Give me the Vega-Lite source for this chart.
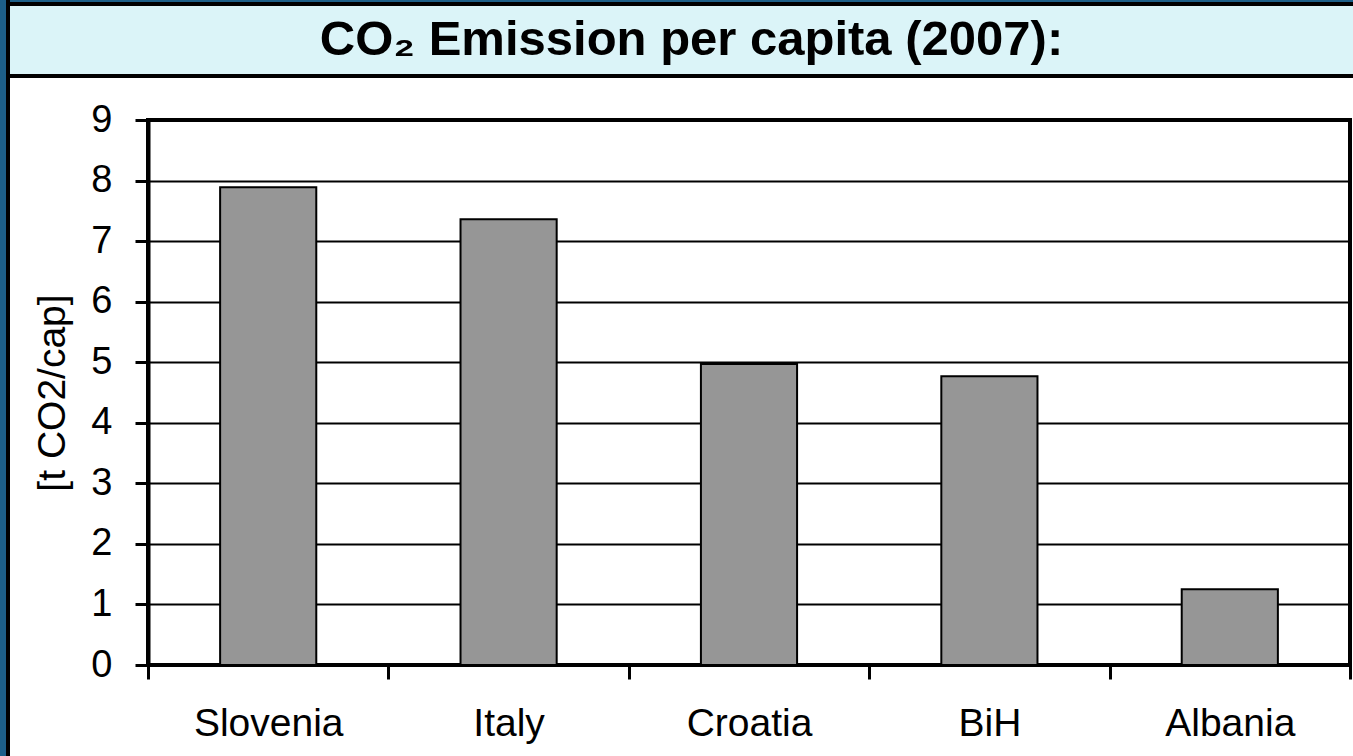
{
  "$schema": "https://vega.github.io/schema/vega-lite/v6.json",
  "padding": 0,
  "background": "white",
  "bounds": "flush",
  "spacing": 0,
  "config": {
    "view": {"stroke": null},
    "font": "Liberation Sans"
  },
  "hconcat": [
    {
      "width": 6, "height": 756,
      "view": {"fill": "#1d5f88", "stroke": null},
      "data": {"values": [{}]},
      "mark": {"type": "rect", "color": "#1d5f88"}
    },
    {
      "width": 4, "height": 756,
      "view": {"fill": "#000000", "stroke": null},
      "data": {"values": [{}]},
      "mark": {"type": "rect", "color": "#000000"}
    },
    {
      "bounds": "flush",
      "spacing": 0,
      "vconcat": [
        {
          "width": 1343, "height": 2,
          "view": {"fill": "#1d5f88", "stroke": null},
          "data": {"values": [{}]},
          "mark": {"type": "rect", "color": "#1d5f88"}
        },
        {
          "width": 1343, "height": 4,
          "view": {"fill": "#000000", "stroke": null},
          "data": {"values": [{}]},
          "mark": {"type": "rect", "color": "#000000"}
        },
        {
          "width": 1343, "height": 68,
          "view": {"fill": "#dbf4f8", "stroke": null},
          "data": {"values": [{"title": "CO₂ Emission per capita (2007):"}]},
          "mark": {"type": "text", "font": "Liberation Sans", "fontWeight": "bold", "fontSize": 49, "color": "#000000", "align": "center", "baseline": "alphabetic", "dy": 15, "dx": 10},
          "encoding": {"text": {"field": "title", "type": "nominal"}}
        },
        {
          "width": 1343, "height": 4,
          "view": {"fill": "#000000", "stroke": null},
          "data": {"values": [{}]},
          "mark": {"type": "rect", "color": "#000000"}
        },
        {
          "width": 1343, "height": 42,
          "view": {"fill": "white", "stroke": null},
          "data": {"values": [{}]},
          "mark": {"type": "rect", "color": "white"}
        },
        {
          "bounds": "flush",
          "spacing": 0,
          "hconcat": [
            {
              "width": 138, "height": 545,
              "data": {"values": [{}]},
              "mark": {"type": "rect", "opacity": 0}
            },
            {
              "width": 1202, "height": 545,
              "view": {"stroke": "#000000", "strokeWidth": 4, "fill": "white"},
              "data": {"values": [
                {"country": "Slovenia", "value": 7.89},
                {"country": "Italy", "value": 7.36},
                {"country": "Croatia", "value": 4.97},
                {"country": "BiH", "value": 4.77},
                {"country": "Albania", "value": 1.25}
              ]},
              "mark": {"type": "bar", "fill": "#969696", "stroke": "#000000", "strokeWidth": 2, "width": {"band": 0.4}},
              "encoding": {
                "x": {
                  "field": "country", "type": "nominal", "sort": null,
                  "scale": {"paddingInner": 0, "paddingOuter": 0},
                  "axis": {
                    "title": null, "labelAngle": 0, "tickBand": "extent",
                    "domainColor": "#000000", "domainWidth": 3,
                    "tickColor": "#000000", "tickWidth": 3, "tickSize": 14,
                    "labelFont": "Liberation Sans", "labelFontSize": 39, "labelColor": "#000000",
                    "labelPadding": 25, "grid": false
                  }
                },
                "y": {
                  "field": "value", "type": "quantitative",
                  "scale": {"domain": [0, 9], "nice": false},
                  "axis": {
                    "title": "[t CO2/cap]", "values": [0, 1, 2, 3, 4, 5, 6, 7, 8, 9],
                    "titleFont": "Liberation Sans", "titleFontSize": 39, "titleFontWeight": "normal", "titleColor": "#000000",
                    "titlePadding": 10, "minExtent": 66, "maxExtent": 66,
                    "domainColor": "#000000", "domainWidth": 4,
                    "tickColor": "#000000", "tickWidth": 3, "tickSize": 13,
                    "labelFont": "Liberation Sans", "labelFontSize": 38, "labelColor": "#000000",
                    "labelPadding": 23,
                    "grid": true, "gridColor": "#000000", "gridWidth": 2, "gridOpacity": 1
                  }
                }
              }
            }
          ]
        }
      ]
    }
  ]
}
